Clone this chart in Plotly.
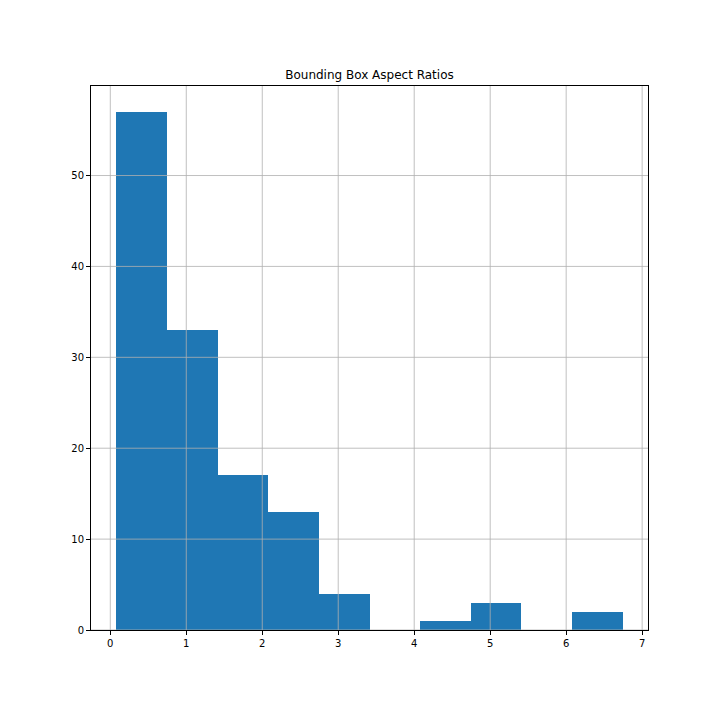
import plotly.graph_objects as go

bin_edges = [0.08, 0.746, 1.413, 2.079, 2.745, 3.412, 4.078, 4.744, 5.410, 6.077, 6.743]
counts = [57, 33, 17, 13, 4, 0, 1, 3, 0, 2]
x_ticks = [0, 1, 2, 3, 4, 5, 6, 7]
y_ticks = [0, 10, 20, 30, 40, 50]

lefts = bin_edges[:-1]
widths = [bin_edges[i + 1] - bin_edges[i] for i in range(len(counts))]

fig = go.Figure()
fig.add_trace(go.Bar(x=lefts, y=counts, width=widths, offset=0,
                     marker=dict(color="#1f77b4", line=dict(width=0))))

# matplotlib draws the grid on top of the bars, so use shapes above the traces
grid = dict(color="#b0b0b0", width=0.8)
for t in x_ticks:
    fig.add_shape(type="line", xref="x", yref="paper", x0=t, x1=t, y0=0, y1=1,
                  line=grid, layer="above")
for t in y_ticks:
    fig.add_shape(type="line", xref="paper", yref="y", x0=0, x1=1, y0=t, y1=t,
                  line=grid, layer="above")

axis_style = dict(showline=True, linecolor="black", linewidth=1, mirror=True,
                  ticks="outside", ticklen=4, tickcolor="black",
                  showgrid=False, zeroline=False, layer="above traces",
                  tickfont=dict(family="DejaVu Sans", size=10, color="black"))

fig.update_layout(
    width=720, height=720,
    plot_bgcolor="white", paper_bgcolor="white",
    margin=dict(l=83, r=80, t=78, b=98),
    showlegend=False, bargap=0,
    title=dict(text="Bounding Box Aspect Ratios", x=(83 + 557 / 2) / 720, xanchor="center",
               y=1 - 67 / 720, yanchor="middle",
               font=dict(family="DejaVu Sans", size=12, color="black")),
    xaxis=dict(range=[-0.254, 7.077], tickvals=x_ticks, **axis_style),
    yaxis=dict(range=[0, 59.85], tickvals=y_ticks, **axis_style),
)

fig.write_html("out.html")
